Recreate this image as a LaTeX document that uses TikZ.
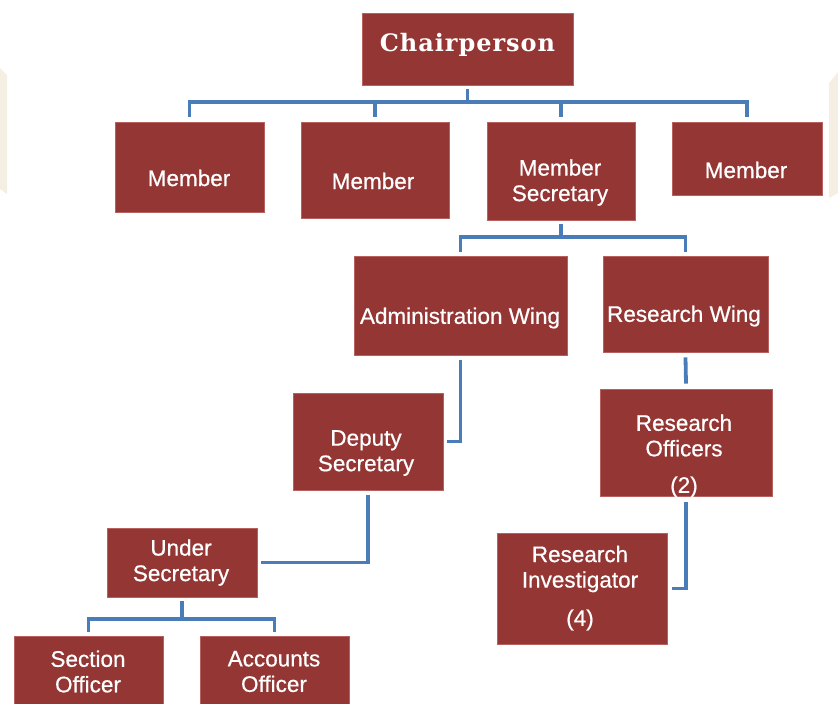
\documentclass[tikz,border=0pt]{standalone}
\usepackage{fontspec}
\setmainfont{Liberation Sans}[FakeBold=0.6]
\newfontfamily\slab{DejaVu Serif}[LetterSpace=4]
\definecolor{boxred}{HTML}{943634}
\definecolor{boxedge}{HTML}{B8605D}
\definecolor{connblue}{HTML}{4A7DB8}
\definecolor{beige}{HTML}{F5EEE3}
\tikzset{
  box/.style={draw=boxedge, line width=0.8pt, fill=boxred, inner sep=0pt},
  lbl/.style={text=white, font=\fontsize{22.5}{25.5}\selectfont, inner sep=0pt, anchor=center},
  conn/.style={draw=connblue, line width=3.8pt}
}
\begin{document}
\begin{tikzpicture}[x=1pt,y=-1pt]
\useasboundingbox (0,0) rectangle (838,704);
% side decorations
\fill[beige] (0,68) -- (7,75) -- (7,194) -- (0,189) -- cycle;
\fill[beige] (829,83) -- (838,72) -- (838,193) -- (829,198) -- cycle;
% boxes
\node[box, minimum width=211, minimum height=72] (chair) at (467.5,49) {};
\node[box, minimum width=149, minimum height=90] (m1) at (189.5,167) {};
\node[box, minimum width=148, minimum height=96] (m2) at (375,170) {};
\node[box, minimum width=148, minimum height=98] (ms) at (561,171) {};
\node[box, minimum width=150, minimum height=73] (m4) at (747,158.5) {};
\node[box, minimum width=213, minimum height=99] (aw) at (460.5,305.5) {};
\node[box, minimum width=165, minimum height=96] (rw) at (685.5,304) {};
\node[box, minimum width=150, minimum height=97] (ds) at (368,441.5) {};
\node[box, minimum width=172, minimum height=107] (ro) at (686,442.5) {};
\node[box, minimum width=150, minimum height=69] (us) at (182,562.5) {};
\node[box, minimum width=170, minimum height=111] (ri) at (582,588.5) {};
\node[box, minimum width=149, minimum height=94] (so) at (88.5,683) {};
\node[box, minimum width=149, minimum height=94] (ao) at (274.5,683) {};
% labels
\node[lbl, font=\slab\bfseries\fontsize{24}{27}\selectfont] (tchair) at (467.5,45) {Chairperson};
\node[lbl] (tm1) at (189,178) {Member};
\node[lbl] (tm2) at (373,181) {Member};
\node[lbl, align=center] (tms) at (560,182.5) {Member\\Secretary};
\node[lbl] (tm4) at (746,170) {Member};
\node[lbl] (taw) at (460,318) {Administration Wing};
\node[lbl] (trw) at (684,316) {Research Wing};
\node[lbl, align=center] (tds) at (366,453) {Deputy\\Secretary};
\node[lbl, align=center] (tro) at (684,435.5) {Research\\Officers};
\node[lbl] (tro2) at (684,487) {(2)};
\node[lbl, align=center] (tus) at (181,562.5) {Under\\Secretary};
\node[lbl, align=center] (tri) at (580,569) {Research\\Investigator};
\node[lbl] (tri2) at (580,620) {(4)};
\node[lbl, align=center] (tso) at (88,671.5) {Section\\Officer};
\node[lbl, align=center] (tao) at (274,671.5) {Accounts\\Officer};
% connectors
\coordinate (bus1) at (467.5,102);
\draw[conn] ([yshift=-4]chair.south) -- (bus1);
\draw[conn] ([yshift=5]m1.north) -- (m1.north |- bus1) -- (m4.north |- bus1) -- ([yshift=5]m4.north);
\draw[conn] (m2.north |- bus1) -- ([yshift=5]m2.north);
\draw[conn] (ms.north |- bus1) -- ([yshift=5]ms.north);
\coordinate (bus2) at (561,237);
\draw[conn] ([yshift=-4]ms.south) -- (bus2);
\draw[conn] ([yshift=4]aw.north) -- (aw.north |- bus2) -- (rw.north |- bus2) -- ([yshift=4]rw.north);
\draw[conn] ([yshift=-5]aw.south) |- ([xshift=4]ds.east);
\draw[conn] ([yshift=-5]ds.south) |- ([xshift=4]us.east);
\coordinate (bus3) at (182,619);
\draw[conn] ([yshift=-4]us.south) -- (bus3);
\draw[conn] ([yshift=4]so.north) -- (so.north |- bus3) -- (ao.north |- bus3) -- ([yshift=4]ao.north);
\draw[conn] ([yshift=-5]rw.south) -- ([yshift=5]ro.north);
\draw[conn] ([yshift=-6]ro.south) |- ([xshift=5]ri.east);
\end{tikzpicture}
\end{document}
